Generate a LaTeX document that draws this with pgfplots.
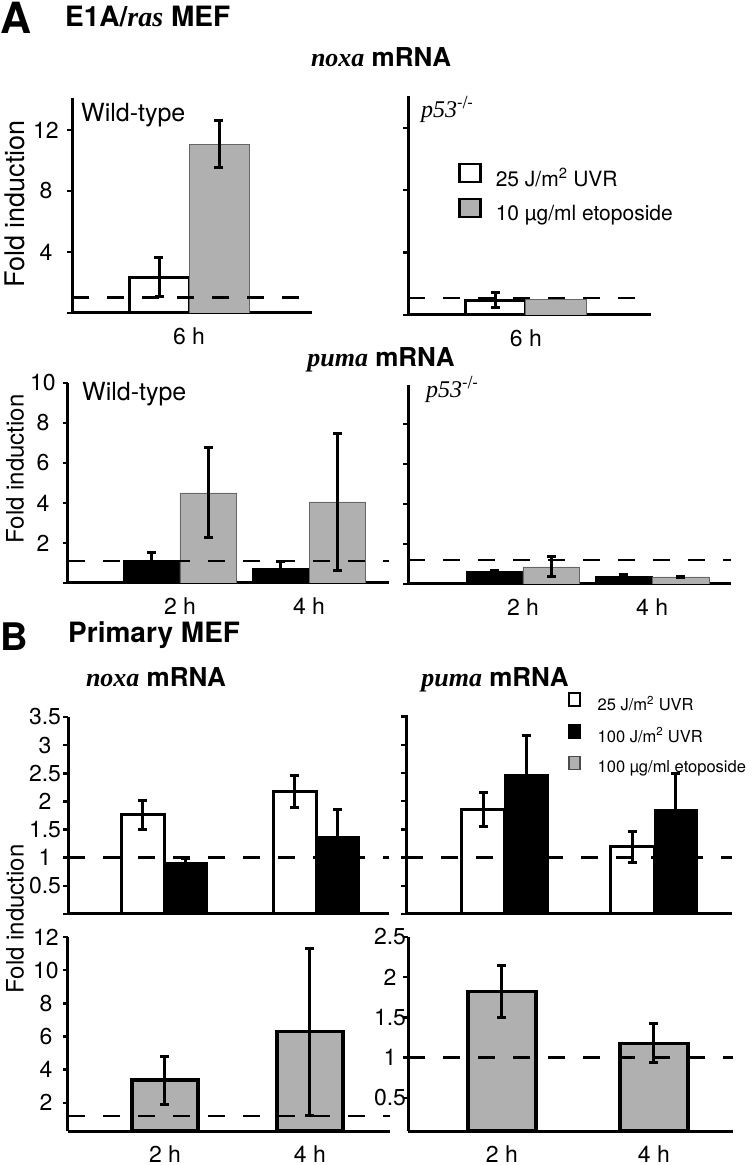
\documentclass[border=0pt]{standalone}
\usepackage{pgfplots}
\pgfplotsset{compat=1.18}
\usepackage{fontspec}
\setmainfont{TeX Gyre Heros}
\newfontfamily\tms{Liberation Serif}
\definecolor{bargray}{RGB}{176,176,176}
\newcommand{\fs}[1]{\fontsize{#1}{#1}\selectfont}
\pgfplotsset{
  panel/.style={
    scale only axis,
    axis x line*=bottom, axis y line*=left,
    axis line style={line width=3pt, -},
    tick align=outside,
    major tick length=5pt,
    ytick style={black, line width=2.5pt},
    xtick style={draw=none},
    /pgf/number format/assume math mode=true,
    tick label style={font=\fs{23}},
    xticklabel style={yshift=-6pt},
    yticklabel style={anchor=center},
    enlargelimits=false,
    every error bar/.append style={line width=3pt, black, solid},
    error bars/error bar style={line width=3pt, black, solid},
  },
  wbar/.style={ybar, bar shift=0, fill=white, draw=black, line width=3pt, forget plot},
  gbarA/.style={ybar, bar shift=0, fill=bargray, draw=black!60, line width=0.8pt, forget plot},
  kbar/.style={ybar, bar shift=0, fill=black, draw=black, line width=1pt, forget plot},
  gbarB/.style={ybar, bar shift=0, fill=bargray, draw=black, line width=3.2pt, forget plot},
  errs/.style={error bars/y dir=both, error bars/y explicit,
    error bars/error bar style={line width=3pt, black, solid},
    error bars/error mark options={rotate=90, mark size=4.5pt, line width=3pt, black, solid}},
  refline/.style={black, line width=2.8pt, dash pattern=on 17pt off 18pt, forget plot},
  boxlegend/.style={legend image code/.code={\draw[##1] (0pt,-4pt) rectangle (21pt,14pt);}},
  smallboxlegend/.style={legend image code/.code={\draw[##1] (0pt,-2pt) rectangle (11pt,11pt);}},
}
\begin{document}
\begin{tikzpicture}
\useasboundingbox (0,0) rectangle (752pt,1165pt);

% ---------- Titles ----------
\node[anchor=north west, inner sep=0pt] at (0pt,1163pt) {\fs{43}\bfseries A};
\node[anchor=base west, inner sep=0pt] at (65pt,1138pt) {\fs{28}\bfseries E1A/{\tms\itshape ras} MEF};
\node[anchor=base, inner sep=0pt] at (381pt,1098pt) {\fs{26}{\tms\bfseries\itshape noxa} \bfseries mRNA};
\node[anchor=base, inner sep=0pt] at (381pt,798pt) {\fs{26}{\tms\bfseries\itshape puma} \bfseries mRNA};
\node[anchor=north west, inner sep=0pt] at (0pt,542pt) {\fs{38}\bfseries B};
\node[anchor=base west, inner sep=0pt] at (68pt,522pt) {\fs{28}\bfseries Primary MEF};
\node[anchor=base, inner sep=0pt] at (156pt,478pt) {\fs{26}{\tms\bfseries\itshape noxa} \bfseries mRNA};
\node[anchor=base, inner sep=0pt] at (495pt,478pt) {\fs{26}{\tms\bfseries\itshape puma} \bfseries mRNA};
\node[rotate=90, inner sep=0pt] at (15pt,961pt) {\fs{27}Fold induction};
\node[rotate=90, inner sep=0pt] at (15pt,696pt) {\fs{24}Fold induction};
\node[rotate=90, inner sep=0pt] at (15pt,246pt) {\fs{24}Fold induction};
% panel labels
\node[anchor=base west, inner sep=0pt] at (81pt,1043pt) {\fs{25}Wild-type};
\node[anchor=base west, inner sep=0pt] at (421pt,1047pt) {\fs{24}{\tms\itshape p53}\textsuperscript{-/-}};
\node[anchor=base west, inner sep=0pt] at (82pt,764pt) {\fs{25}Wild-type};
\node[anchor=base west, inner sep=0pt] at (426pt,767pt) {\fs{24}{\tms\itshape p53}\textsuperscript{-/-}};

% ---------- A: noxa, wild-type ----------
\begin{axis}[panel, at={(72pt,852pt)}, anchor=south west,
  width=240pt, height=215pt, xmin=-1.95, xmax=2.05, ymin=0, ymax=14.1,
  ytick={0,4,8,12}, yticklabels={,4,8,12}, yticklabel style={xshift=-21pt},
  xtick={0}, xticklabels={6 h}]
\addplot[wbar, bar width=1, errs] coordinates {(-0.5,2.36) +- (0,1.25)};
\addplot[gbarA, bar width=1, errs] coordinates {(0.5,11.08) +- (0,1.55)};
\addplot[refline] coordinates {(-1.95,1) (2.05,1)};
\end{axis}

% ---------- A: noxa, p53-/- ----------
\begin{axis}[panel, boxlegend, at={(408pt,850pt)}, anchor=south west,
  width=243pt, height=219pt, xmin=-1.94, xmax=2.06, ymin=0, ymax=14.04,
  ytick={0,4,8,12}, yticklabels={}, xtick={0}, xticklabels={6 h},
  legend style={at={(rel axis cs:0.206,0.695)}, anchor=north west, draw=none, fill=none,
    font=\fs{21}, row sep=8pt, inner sep=0pt,
    /tikz/every odd column/.append style={column sep=12pt}},
  legend cell align=left]
\addplot[wbar, bar width=1, errs] coordinates {(-0.5,0.96) +- (0,0.45)};
\addplot[gbarA, bar width=1] coordinates {(0.5,1.03)};
\addplot[refline] coordinates {(-1.94,1.09) (2.06,1.09)};
\addlegendimage{fill=white, draw=black, line width=2.5pt}
\addlegendentry{25 J/m\textsuperscript{2} UVR}
\addlegendimage{fill=bargray, draw=black, line width=2.5pt}
\addlegendentry{10 µg/ml etoposide}
\end{axis}

% ---------- A: puma, wild-type ----------
\begin{axis}[panel, at={(68pt,582pt)}, anchor=south west,
  width=321pt, height=200pt, xmin=-0.868, xmax=1.62, ymin=0, ymax=10,
  ytick={0,2,4,6,8,10}, yticklabels={,2,4,6,8,10}, yticklabel style={xshift=-20pt},
  xtick={0,1}, xticklabels={2 h,4 h}]
\addplot[kbar, bar width=0.44, errs] coordinates {(-0.22,1.1) +- (0,0.4) (0.78,0.7) +- (0,0.35)};
\addplot[gbarA, bar width=0.44, errs] coordinates {(0.22,4.5) +- (0,2.25) (1.22,4.05) +- (0,3.42)};
\addplot[refline] coordinates {(-0.868,1.1) (1.62,1.1)};
\end{axis}

% ---------- A: puma, p53-/- ----------
\begin{axis}[panel, at={(408pt,581pt)}, anchor=south west,
  width=323pt, height=199pt, xmin=-0.89, xmax=1.61, ymin=0, ymax=9.95,
  ytick={0,2,4,6,8,10}, yticklabels={}, xtick={0,1}, xticklabels={2 h,4 h}]
\addplot[kbar, bar width=0.44, errs] coordinates {(-0.22,0.6) +- (0,0.05) (0.78,0.35) +- (0,0.1)};
\addplot[gbarA, bar width=0.44, errs] coordinates {(0.22,0.85) +- (0,0.5) (1.22,0.35) +- (0,0.03)};
\addplot[refline] coordinates {(-0.89,1.2) (1.61,1.2)};
\end{axis}

% ---------- B: noxa, UVR ----------
\begin{axis}[panel, at={(68pt,251pt)}, anchor=south west,
  width=321pt, height=197pt, xmin=-0.632, xmax=1.48, ymin=0, ymax=3.5,
  ytick={0,0.5,1,1.5,2,2.5,3,3.5}, yticklabels={,0.5,1,1.5,2,2.5,3,3.5},
  yticklabel style={xshift=-18pt}, xtick=\empty]
\addplot[wbar, bar width=0.283, errs] coordinates {(-0.1415,1.76) +- (0,0.25) (0.8585,2.18) +- (0,0.28)};
\addplot[kbar, bar width=0.283, errs] coordinates {(0.1415,0.91) +- (0,0.07) (1.1415,1.37) +- (0,0.48)};
\addplot[refline] coordinates {(-0.632,1) (1.48,1)};
\end{axis}

% ---------- B: puma, UVR ----------
\begin{axis}[panel, smallboxlegend, at={(406pt,251pt)}, anchor=south west,
  width=326pt, height=199pt, xmin=-0.664, xmax=1.523, ymin=0, ymax=3.53,
  ytick={0,0.5,1,1.5,2,2.5,3,3.5}, yticklabels={}, xtick=\empty,
  legend style={at={(rel axis cs:0.497,1.115)}, anchor=north west, draw=none, fill=none,
    font=\fs{16.5}, row sep=10pt, inner sep=0pt,
    /tikz/every odd column/.append style={column sep=15pt}},
  legend cell align=left]
\addplot[wbar, bar width=0.289, errs] coordinates {(-0.1445,1.85) +- (0,0.3) (0.8555,1.19) +- (0,0.28)};
\addplot[kbar, bar width=0.289, errs] coordinates {(0.1445,2.47) +- (0,0.69) (1.1445,1.85) +- (0,0.64)};
\addplot[refline] coordinates {(-0.664,1) (1.523,1)};
\addlegendimage{fill=white, draw=black, line width=1.5pt}
\addlegendentry{25 J/m\textsuperscript{2} UVR}
\addlegendimage{fill=black, draw=black, line width=1.5pt}
\addlegendentry{100 J/m\textsuperscript{2} UVR}
\addlegendimage{fill=bargray, draw=black!70, line width=1.5pt}
\addlegendentry{100 µg/ml etoposide}
\end{axis}

% ---------- B: noxa, etoposide ----------
\begin{axis}[panel, at={(68pt,34pt)}, anchor=south west,
  width=322pt, height=194pt, xmin=-0.669, xmax=1.552, ymin=0.3, ymax=12,
  ytick={2,4,6,8,10,12}, yticklabel style={xshift=-17pt},
  xtick={0,1}, xticklabels={2 h,4 h}]
\addplot[gbarB, bar width=0.455, errs] coordinates {(0,3.37) +- (0,1.45) (1,6.28) +- (0,5.02)};
\addplot[refline] coordinates {(-0.669,1.2) (1.552,1.2)};
\end{axis}

% ---------- B: puma, etoposide ----------
\begin{axis}[panel, at={(408pt,34pt)}, anchor=south west,
  width=325pt, height=194pt, xmin=-0.618, xmax=1.52, ymin=0.09, ymax=2.5,
  ytick={0.5,1,1.5,2,2.5}, yticklabels={0.5,1,1.5,2,2.5}, yticklabel style={xshift=-13pt},
  xtick={0,1}, xticklabels={2 h,4 h}]
\addplot[gbarB, bar width=0.447, errs] coordinates {(0,1.82) +- (0,0.32) (1,1.18) +- (0,0.245)};
\addplot[refline] coordinates {(-0.618,1) (1.52,1)};
\end{axis}
\end{tikzpicture}
\end{document}
